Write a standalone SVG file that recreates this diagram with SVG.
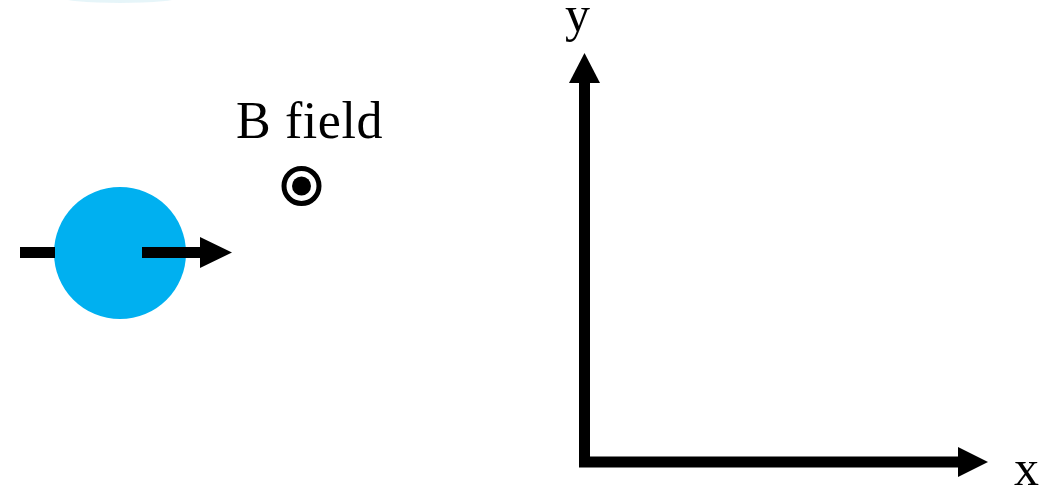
<svg xmlns="http://www.w3.org/2000/svg" width="1061" height="489" viewBox="0 0 1061 489">
  <style>
    .lbl { font-family: "Liberation Serif", "Times New Roman", serif; font-size: 50px; fill: #000; }
    .ink { fill: #000; }
    .shaft { fill: none; stroke: #000; stroke-width: 11; stroke-linejoin: miter; stroke-linecap: butt; }
  </style>
  <rect width="1061" height="489" fill="#fff"/>
  <ellipse cx="120" cy="-3" rx="60" ry="6" fill="#d6eef5" opacity="0.6"/>

  <g id="particle">
    <circle cx="120" cy="253" r="66" fill="#00b0f0"/>
  </g>

  <g id="connectors">
    <rect class="ink" x="20" y="247" width="35" height="11"/>
    <g id="velocity-arrow">
      <rect class="ink" x="142" y="247" width="59" height="11"/>
      <polygon class="ink" points="200,237 232,252.5 200,268"/>
    </g>
  </g>

  <g id="bfield">
    <text class="lbl" x="236" y="138" style="font-size:52px" letter-spacing="0.6">B field</text>
    <circle cx="301.5" cy="186" r="17.5" fill="none" stroke="#000" stroke-width="5"/>
    <circle cx="301.5" cy="186" r="9.5" fill="#000"/>
  </g>

  <g id="axes">
    <path class="shaft" d="M584.5,82 V462 H959"/>
    <polygon class="ink" points="569,83 584.5,53 600,83"/>
    <polygon class="ink" points="958,447 988,462 958,477"/>
    <text class="lbl" x="565" y="31">y</text>
    <text class="lbl" x="1014" y="485">x</text>
  </g>
</svg>
